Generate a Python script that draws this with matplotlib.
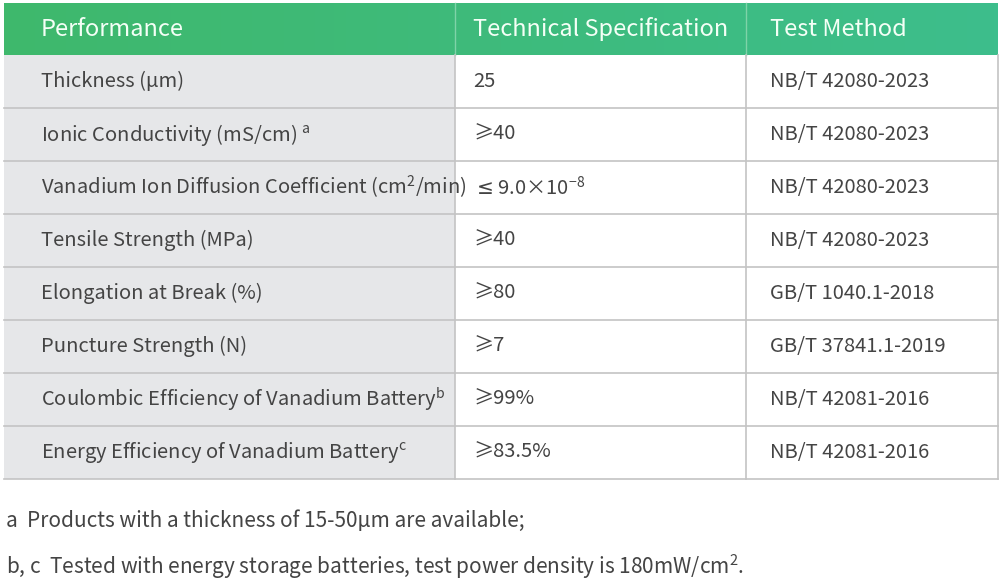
import matplotlib
matplotlib.use("Agg")
import matplotlib.pyplot as plt
from matplotlib.patches import Rectangle
from matplotlib.colors import LinearSegmentedColormap
import numpy as np

headers = ["Performance", "Technical Specification", "Test Method"]
performance = ["Thickness (µm)", "Ionic Conductivity (mS/cm) $^{\\mathregular{a}}$",
               "Vanadium Ion Diffusion Coefficient (cm$^{\\mathregular{2}}$/min)",
               "Tensile Strength (MPa)", "Elongation at Break (%)", "Puncture Strength (N)",
               "Coulombic Efficiency of Vanadium Battery$^{\\mathregular{b}}$",
               "Energy Efficiency of Vanadium Battery$^{\\mathregular{c}}$"]
spec = ["25", "≥40", "$\\leq$9.0×10$^{\\mathregular{-8}}$", "≥40", "≥80", "≥7", "≥99%", "≥83.5%"]
method = ["NB/T 42080-2023"] * 4 + ["GB/T 1040.1-2018", "GB/T 37841.1-2019",
                                    "NB/T 42081-2016", "NB/T 42081-2016"]
notes = ["a  Products with a thickness of 15-50µm are available;",
         "b, c  Tested with energy storage batteries, test power density is 180mW/cm$^{\\mathregular{2}}$."]

plt.rcParams['font.family'] = ['Noto Sans CJK SC', 'DejaVu Sans']
W, H = 1000, 586
fig = plt.figure(figsize=(10, 5.86), dpi=100)
ax = fig.add_axes([0, 0, 1, 1])
ax.set_xlim(0, W); ax.set_ylim(H, 0); ax.axis('off')

x0, x1, x2, x3 = 4, 455, 746, 998
hy0, hy1 = 3, 55
rh = 53
grad = np.linspace(0, 1, 256)[None, :]
cm = LinearSegmentedColormap.from_list("g", ["#3fb86c", "#3dbe8c"])
ax.imshow(grad, cmap=cm, extent=[x0, x3, hy1, hy0], aspect='auto', zorder=0)
for xb in [x1, x2]:
    ax.plot([xb, xb], [hy0, hy1], color="#7fd3a8", lw=1, zorder=2)
tx = [x0 + 37, x1 + 18, x2 + 24]
for t, x in zip(headers, tx):
    ax.text(x, (hy0 + hy1) / 2, t, color="#f4fff6", fontsize=17, va='center', ha='left')

for i in range(len(performance)):
    y = hy1 + i * rh
    ax.add_patch(Rectangle((x0, y), x1 - x0, rh, facecolor="#e6e7e9", edgecolor='none', zorder=1))
    ax.plot([x0, x3], [y + rh, y + rh], color="#c4c4c4", lw=1.2, zorder=2)
    yc = y + rh / 2
    ax.text(x0 + 37, yc, performance[i], color="#444444", fontsize=14.5, va='center')
    ax.text(x1 + 18, yc, spec[i], color="#444444", fontsize=14.5, va='center')
    ax.text(x2 + 24, yc, method[i], color="#444444", fontsize=14.5, va='center')
for xb in [x1, x2, x3]:
    ax.plot([xb, xb], [hy1, hy1 + 8 * rh], color="#c4c4c4", lw=1.2, zorder=2)

ax.text(6, 521, notes[0], color="#444444", fontsize=15, va='center')
ax.text(6, 567, notes[1], color="#444444", fontsize=15, va='center')
fig.savefig("out.png", dpi=100)
